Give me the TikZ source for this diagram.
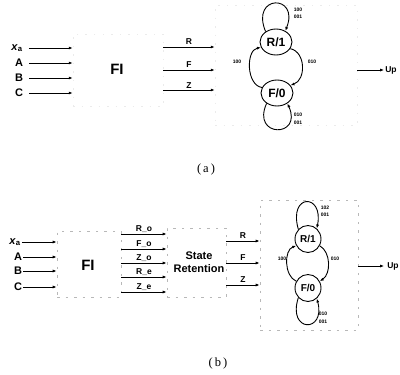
\documentclass[tikz,border=0pt]{standalone}
\usepackage{fontspec}
\setmainfont{Liberation Sans}
\newfontfamily\capfont{Liberation Serif}
\usetikzlibrary{arrows.meta,shapes.geometric}

\begin{document}
\begin{tikzpicture}[x=1pt,y=-1pt,
  every node/.style={font=\bfseries},
  wire/.style={line width=0.9pt,-{Latex[length=4pt,width=3pt]}},
  trans/.style={line width=0.9pt,-{Latex[length=4pt,width=3pt]}},
  sig/.style={font=\bfseries\fontsize{11}{13}\selectfont,inner sep=1pt},
  wlbl/.style={font=\bfseries\fontsize{8.5}{10}\selectfont,inner sep=2pt,above},
  blocklbl/.style={font=\bfseries\fontsize{15}{17}\selectfont,inner sep=0pt},
  ghostA/.style={draw=black!8,line width=0.5pt,dash pattern=on 1.5pt off 7pt,inner sep=0pt},
  ghostB/.style={draw=black!28,line width=0.6pt,dash pattern=on 2.5pt off 6pt,inner sep=0pt},
  stateA/.style={draw,ellipse,line width=0.9pt,inner sep=0pt,minimum width=32pt,minimum height=26pt,
                 font=\bfseries\fontsize{12}{12}\selectfont},
  stateB/.style={draw,ellipse,line width=0.9pt,inner sep=0pt,minimum width=26pt,minimum height=27pt,
                 font=\bfseries\fontsize{10}{10}\selectfont},
  tiny/.style={font=\bfseries\fontsize{5}{7}\selectfont,inner sep=0pt,align=left},
  outlbl/.style={font=\bfseries\fontsize{8.5}{10}\selectfont,inner sep=1pt},
  captxt/.style={font=\capfont\fontsize{12.5}{14}\selectfont,inner sep=0pt}]

\useasboundingbox (0,0) rectangle (400,375);

% ================= (a) =================
% block outlines
\node[ghostA,minimum width=90pt,minimum height=72pt] (a-fi) at (118,70) {};
\node[blocklbl] (a-filbl) at (117,69) {FI};
\node[ghostA,minimum width=142pt,minimum height=120pt] (a-sm) at (286,65) {};

% inputs
\node[sig] (a-xa) at (17,48) {\textit{x}\textsubscript{a}};
\node[sig] (a-A) at (19,63) {A};
\node[sig] (a-B) at (19,78) {B};
\node[sig] (a-C) at (19,93) {C};
\draw[wire,shorten <=5pt] (a-xa.east |- 0,48) -- (a-fi.west |- 0,48);
\draw[wire,shorten <=5pt] (a-A.east |- 0,63) -- (a-fi.west |- 0,63);
\draw[wire,shorten <=5pt] (a-B.east |- 0,78) -- (a-fi.west |- 0,78);
\draw[wire,shorten <=5pt] (a-C.east |- 0,93) -- (a-fi.west |- 0,93);

% outputs of FI
\draw[wire] (a-fi.east |- 0,47) -- node[wlbl] (a-R) {R} (a-sm.west |- 0,47);
\draw[wire] (a-fi.east |- 0,70) -- node[wlbl] (a-F) {F} (a-sm.west |- 0,70);
\draw[wire] (a-fi.east |- 0,90) -- node[wlbl,inner sep=1pt] (a-Z) {Z} (a-sm.west |- 0,90);

% state machine
\node[stateA] (a-R1) at (276,42) {R/1};
\node[stateA] (a-F0) at (277,93) {F/0};
\draw[trans] (a-R1.135) .. controls (250,-6) and (300,-6) .. (a-R1.50);
\draw[trans] (a-F0.225) .. controls (251,138) and (303,138) .. (a-F0.-45);
\draw[trans] (a-F0.160) .. controls (246,85) and (246,50) .. (a-R1.200);
\draw[trans] (a-R1.-25) .. controls (306,52) and (306,80) .. (a-F0.30);
\node[tiny] (a-t1) at (298,13.5) {100\\001};
\node[tiny] (a-t2) at (298,119) {010\\[1.5pt]001};
\node[tiny] (a-t3) at (237,62) {100};
\node[tiny] (a-t4) at (312,62) {010};

% output
\node[outlbl] (a-up) at (391,70) {Up};
\draw[wire] (a-sm.east |- a-up) -- (a-up.west);

\node[captxt] (cap-a) at (206,169) {(\hspace{2pt}a\hspace{2pt})};

% ================= (b) =================
\node[ghostB,minimum width=64pt,minimum height=66pt] (b-fi) at (89,264) {};
\node[blocklbl] (b-filbl) at (88,265) {FI};
\node[ghostB,minimum width=59pt,minimum height=69pt] (b-sr) at (196.5,262.5) {};
\node[sig,align=center,font=\bfseries\fontsize{11}{13}\selectfont] (b-srlbl) at (199,262) {State\\Retention};
\node[ghostB,minimum width=98pt,minimum height=130pt] (b-sm) at (309,265) {};

% inputs
\node[sig] (b-xa) at (15,242) {\textit{x}\textsubscript{a}};
\node[sig] (b-A) at (18,257) {A};
\node[sig] (b-B) at (18,271) {B};
\node[sig] (b-C) at (18,287) {C};
\draw[wire] (b-xa.east |- 0,242) -- (b-fi.west |- 0,242);
\draw[wire] (b-A.east |- 0,257) -- (b-fi.west |- 0,257);
\draw[wire] (b-B.east |- 0,271) -- (b-fi.west |- 0,271);
\draw[wire] (b-C.east |- 0,287) -- (b-fi.west |- 0,287);

% FI to state retention
\draw[wire] (b-fi.east |- 0,234) -- node[wlbl,inner sep=1.5pt] (b-Ro) {R\_o} (b-sr.west |- 0,234);
\draw[wire] (b-fi.east |- 0,249) -- node[wlbl,inner sep=1.5pt] (b-Fo) {F\_o} (b-sr.west |- 0,249);
\draw[wire] (b-fi.east |- 0,263) -- node[wlbl,inner sep=1.5pt] (b-Zo) {Z\_o} (b-sr.west |- 0,263);
\draw[wire] (b-fi.east |- 0,277) -- node[wlbl,inner sep=1.5pt] (b-Re) {R\_e} (b-sr.west |- 0,277);
\draw[wire] (b-fi.east |- 0,292) -- node[wlbl,inner sep=1.5pt] (b-Ze) {Z\_e} (b-sr.west |- 0,292);

% state retention to machine
\draw[wire] (b-sr.east |- 0,241) -- node[wlbl] (b-R) {R} (b-sm.west |- 0,241);
\draw[wire] (b-sr.east |- 0,263) -- node[wlbl] (b-F) {F} (b-sm.west |- 0,263);
\draw[wire] (b-sr.east |- 0,285) -- node[wlbl] (b-Z) {Z} (b-sm.west |- 0,285);

% state machine
\node[stateB] (b-R1) at (308,239) {R/1};
\node[stateB] (b-F0) at (308,288) {F/0};
\draw[trans] (b-R1.135) .. controls (288,193) and (324,193) .. (b-R1.50);
\draw[trans] (b-F0.225) .. controls (287,333) and (326,333) .. (b-F0.-50);
\draw[trans] (b-F0.150) .. controls (284,276) and (284,250) .. (b-R1.210);
\draw[trans] (b-R1.-30) .. controls (331,252) and (331,274) .. (b-F0.30);
\node[tiny] (b-t1) at (325,211.5) {102\\001};
\node[tiny] (b-t2) at (323,317.5) {010\\[1pt]001};
\node[tiny] (b-t3) at (282,259) {100};
\node[tiny] (b-t4) at (335,259) {010};

% output
\node[outlbl,inner sep=0pt] (b-up) at (393,266) {Up};
\draw[wire,shorten >=3pt] (b-sm.east |- b-up) -- (b-up.west);

\node[captxt] (cap-b) at (218,363) {(\hspace{2pt}b\hspace{2pt})};
\end{tikzpicture}
\end{document}
